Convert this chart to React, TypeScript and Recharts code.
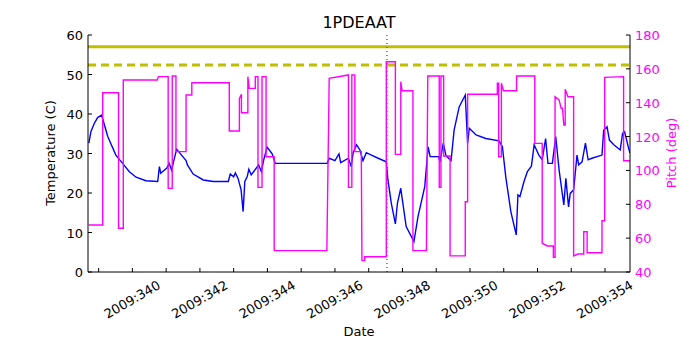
import React from "react";
import {
  LineChart,
  Line,
  XAxis,
  YAxis,
  ReferenceLine,
} from "recharts";

// temperature (left axis), day of year 2009
const tempDays = [
  338.71, 338.77, 338.87, 338.97, 339.09, 339.27, 339.51, 339.71, 339.91, 340.11, 340.40, 340.75, 340.80,
  340.84, 341.02, 341.09, 341.16, 341.31, 341.59, 341.63, 341.80, 342.10, 342.40,
  342.84, 342.90, 343.00, 343.05, 343.13, 343.22, 343.28, 343.33, 343.40, 343.45,
  343.52, 343.74, 343.82, 343.89, 343.99, 344.14, 344.23, 345.77, 345.83, 346.00,
  346.12, 346.17, 346.40, 346.48, 346.54, 346.64, 346.74, 346.83, 346.93, 347.08,
  347.28, 347.52, 347.57, 347.67, 347.79, 347.85, 347.95, 347.99, 348.11, 348.34,
  348.46, 348.66, 348.76, 348.82, 349.07, 349.11, 349.21, 349.29, 349.44, 349.53,
  349.68, 349.86, 349.93, 349.98, 350.18, 350.47, 350.86, 350.96, 351.06, 351.21,
  351.37, 351.42, 351.48, 351.60, 351.70, 351.82, 351.90, 352.04, 352.14, 352.24,
  352.31, 352.44, 352.54, 352.64, 352.78, 352.84, 352.92, 352.97, 353.07, 353.17,
  353.22, 353.32, 353.42, 353.50, 353.61, 353.91, 353.96, 354.06, 354.13, 354.26,
  354.45, 354.52, 354.58, 354.70, 354.74,
];
const tempValues = [
  32.6, 35.5, 37.6, 39.1, 39.7, 34.3, 29.6, 27.5, 25.4, 24.0, 23.1, 22.9, 26.7,
  25.0, 26.3, 27.5, 25.8, 31.1, 28.2, 27.1, 24.8, 23.3, 22.9,
  22.9, 24.8, 24.1, 25.1, 23.7, 20.8, 15.3, 22.9, 24.1, 26.0,
  24.6, 27.1, 25.4, 28.4, 31.6, 29.9, 27.5, 27.5, 28.8, 28.2,
  29.9, 27.7, 28.8, 26.7, 30.2, 32.2, 30.9, 28.2, 30.2, 29.6,
  28.8, 27.9, 23.3, 17.4, 12.2, 17.4, 21.2, 18.7, 11.5, 7.7,
  14.0, 21.6, 31.7, 29.2, 29.2, 27.9, 32.6, 29.4, 28.2, 35.9,
  41.8, 44.8, 32.6, 36.4, 34.7, 33.8, 33.2, 31.7, 24.1, 15.3,
  9.4, 19.5, 19.1, 22.9, 25.4, 26.8, 32.2, 29.6, 28.4, 33.8,
  27.5, 27.5, 34.3, 25.8, 17.0, 23.7, 16.5, 19.9, 20.8, 29.6,
  27.1, 27.9, 32.6, 28.4, 28.8, 29.6, 35.9, 36.8, 33.4, 32.2,
  30.9, 35.1, 35.5, 31.3, 30.1,
];

// pitch (right axis)
const pitchDays = [
  338.71, 339.12, 339.12, 339.59, 339.59, 339.73, 339.73, 340.74, 340.77, 341.06,
  341.06, 341.18, 341.18, 341.29, 341.29, 341.59, 341.59, 341.76, 341.76, 342.87,
  342.87, 343.17, 343.17, 343.23, 343.23, 343.42, 343.42, 343.46, 343.64, 343.64,
  343.72, 343.72, 343.84, 343.84, 343.96, 343.96, 344.20, 344.20, 345.76, 345.83,
  346.40, 346.40, 346.50, 346.50, 346.59, 346.59, 346.78, 346.80, 346.88, 346.88,
  347.52, 347.52, 347.79, 347.79, 347.95, 347.95, 347.99, 348.31, 348.31, 348.71,
  348.75, 349.09, 349.09, 349.14, 349.14, 349.22, 349.22, 349.41, 349.41, 349.86,
  349.86, 349.93, 349.93, 350.81, 350.81, 350.85, 350.85, 350.93, 350.93, 350.99,
  351.38, 351.38, 351.92, 351.92, 352.14, 352.14, 352.29, 352.47, 352.47, 352.52,
  352.52, 352.64, 352.70, 352.74, 352.78, 352.82, 352.82, 352.90, 353.07, 353.07,
  353.20, 353.37, 353.37, 353.47, 353.47, 353.91, 353.91, 353.99, 353.99, 354.55,
  354.55, 354.74,
];
const pitchValues = [
  67.8, 67.8, 145.9, 145.9, 65.8, 65.8, 153.4, 153.4, 155.4, 155.4,
  89.4, 89.4, 155.8, 155.8, 111.1, 111.1, 144.6, 144.6, 151.8, 151.8,
  123.3, 123.3, 142.6, 145.0, 134.1, 134.1, 155.4, 148.5, 148.5, 155.4,
  155.4, 90.0, 90.0, 155.4, 155.4, 108.1, 108.1, 52.6, 52.6, 154.4,
  156.4, 90.0, 90.0, 156.4, 156.4, 111.1, 111.1, 46.7, 46.7, 49.0,
  49.0, 164.2, 164.2, 109.5, 109.5, 152.4, 147.1, 147.1, 52.6, 52.6,
  155.8, 155.8, 90.0, 90.0, 155.8, 155.8, 108.5, 108.5, 49.5, 49.5,
  81.5, 81.5, 145.0, 145.0, 151.5, 151.5, 108.1, 108.1, 151.5, 147.1,
  147.1, 155.8, 155.8, 116.0, 116.0, 57.0, 55.4, 55.4, 48.7, 48.7,
  143.5, 141.6, 136.7, 136.7, 126.8, 126.8, 147.9, 143.5, 143.5, 49.5,
  50.6, 50.6, 63.8, 63.8, 51.4, 51.4, 70.3, 70.3, 155.0, 155.4,
  105.7, 105.7,
];

const dayTicks = [339, 340, 341, 342, 343, 344, 345, 346, 347, 348, 349, 350, 351, 352, 353, 354];
const tempTicks = [0, 10, 20, 30, 40, 50, 60];
const pitchTicks = [40, 60, 80, 100, 120, 140, 160, 180];

const redLimit = 57;
const yellowLimit = 52.4;
const markDay = 347.54;

const tempData = tempDays.map((d, i) => ({ d, t: tempValues[i] }));
const pitchData = pitchDays.map((d, i) => ({ d, p: pitchValues[i] }));

const FONT = "DejaVu Sans, sans-serif";

function BottomTick(props: any) {
  const { x, y, payload } = props;
  const v = payload.value;
  return (
    <g>
      <line x1={x} y1={y} x2={x} y2={y - 4} stroke="#000" />
      {v % 2 === 0 && (
        <text
          x={x}
          y={y + 32}
          textAnchor="middle"
          fontSize={13}
          fontFamily={FONT}
          fill="#000"
          transform={`rotate(-30, ${x}, ${y + 28})`}
        >
          {`2009:${v}`}
        </text>
      )}
    </g>
  );
}

function TopTick(props: any) {
  const { x, y } = props;
  return <line x1={x} y1={y} x2={x} y2={y + 4} stroke="#000" />;
}

function LeftTick(props: any) {
  const { x, y, payload } = props;
  return (
    <g>
      <line x1={x} y1={y} x2={x + 4} y2={y} stroke="#000" />
      <text x={x - 5} y={y + 5} textAnchor="end" fontSize={13} fontFamily={FONT} fill="#000">
        {payload.value}
      </text>
    </g>
  );
}

function RightTick(props: any) {
  const { x, y, payload } = props;
  return (
    <g>
      <line x1={x} y1={y} x2={x - 4} y2={y} stroke="#000" />
      <text x={x + 5} y={y + 5} textAnchor="start" fontSize={13} fontFamily={FONT} fill="#ff00ff">
        {payload.value}
      </text>
    </g>
  );
}

export default function App() {
  return (
    <div style={{ position: "absolute", left: 0, top: 0, width: 700, height: 350, background: "#fff" }}>
      <div
        style={{
          position: "absolute",
          left: 259,
          width: 200,
          top: 13,
          textAlign: "center",
          fontFamily: FONT,
          fontSize: 16,
          lineHeight: "20px",
        }}
      >
        1PDEAAT
      </div>
      <LineChart width={700} height={350} margin={{ top: 35, right: 0, bottom: 0, left: 0 }}>
        <XAxis
          xAxisId="bottom"
          dataKey="d"
          type="number"
          domain={[338.685, 354.74]}
          allowDataOverflow
          ticks={dayTicks}
          interval={0}
          height={78}
          tickSize={0}
          tickMargin={0}
          tick={<BottomTick />}
          axisLine={{ stroke: "#000" }}
          label={{
            content: () => (
              <text x={359} y={336} textAnchor="middle" fontSize={13} fontFamily={FONT} fill="#000">
                Date
              </text>
            ),
          }}
        />
        <XAxis
          xAxisId="top"
          orientation="top"
          dataKey="d"
          type="number"
          domain={[338.685, 354.74]}
          allowDataOverflow
          ticks={dayTicks}
          interval={0}
          height={0}
          tickSize={0}
          tickMargin={0}
          tick={<TopTick />}
          axisLine={{ stroke: "#000" }}
        />
        <YAxis
          yAxisId="left"
          domain={[0, 60]}
          ticks={tempTicks}
          interval={0}
          width={88}
          tickSize={0}
          tickMargin={0}
          tick={<LeftTick />}
          axisLine={{ stroke: "#000" }}
          label={{
            content: () => (
              <text
                x={55}
                y={153}
                textAnchor="middle"
                fontSize={13}
                fontFamily={FONT}
                fill="#000"
                transform="rotate(-90, 55, 153)"
              >
                Temperature (C)
              </text>
            ),
          }}
        />
        <YAxis
          yAxisId="right"
          orientation="right"
          domain={[40, 180]}
          ticks={pitchTicks}
          interval={0}
          width={70}
          tickSize={0}
          tickMargin={0}
          tick={<RightTick />}
          axisLine={{ stroke: "#000" }}
          label={{
            content: () => (
              <text
                x={676}
                y={153}
                textAnchor="middle"
                fontSize={13}
                fontFamily={FONT}
                fill="#ff00ff"
                transform="rotate(-90, 676, 153)"
              >
                Pitch (deg)
              </text>
            ),
          }}
        />
        <ReferenceLine yAxisId="left" xAxisId="bottom" y={redLimit} stroke="#bfbf00" strokeWidth={3} />
        <ReferenceLine
          yAxisId="left"
          xAxisId="bottom"
          y={yellowLimit}
          stroke="#bfbf00"
          strokeWidth={3}
          strokeDasharray="8 5"
        />
        <ReferenceLine
          yAxisId="left"
          xAxisId="bottom"
          x={markDay}
          stroke="#007a00"
          strokeWidth={1.2}
          strokeDasharray="1 3"
        />
        <Line
          data={tempData}
          xAxisId="bottom"
          yAxisId="left"
          dataKey="t"
          type="linear"
          stroke="#0000ff"
          strokeWidth={1.4}
          dot={false}
          isAnimationActive={false}
        />
        <Line
          data={pitchData}
          xAxisId="bottom"
          yAxisId="right"
          dataKey="p"
          type="linear"
          stroke="#ff00ff"
          strokeWidth={1.4}
          dot={false}
          isAnimationActive={false}
        />
      </LineChart>
    </div>
  );
}
